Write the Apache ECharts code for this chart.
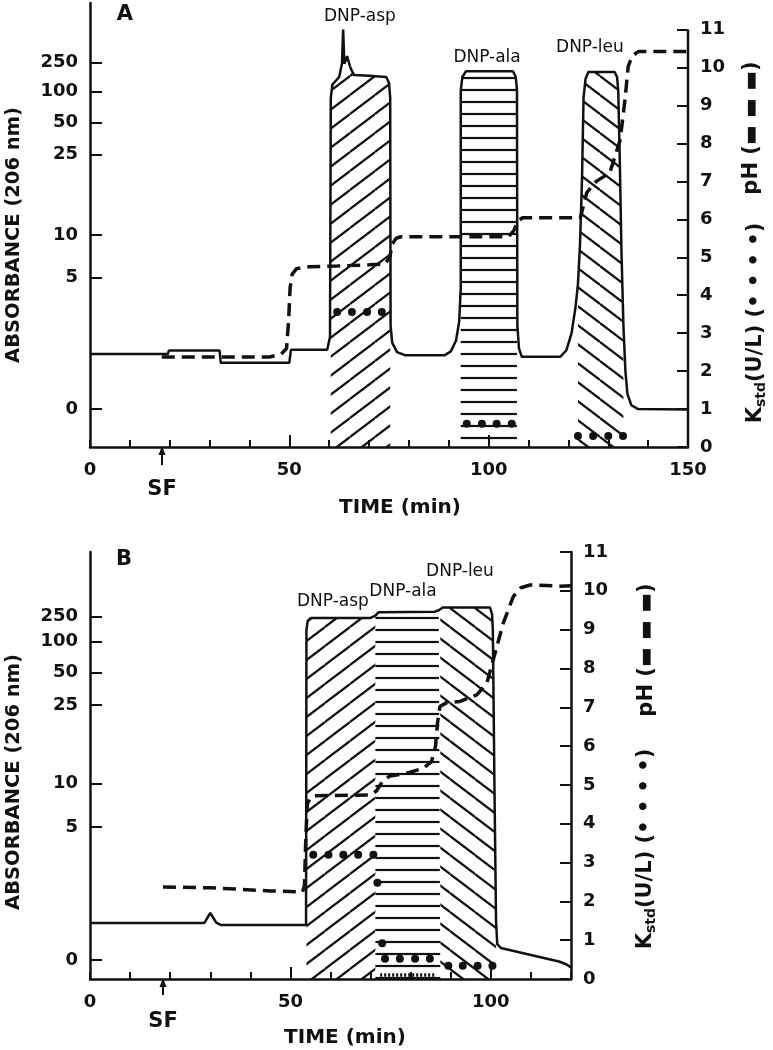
<!DOCTYPE html>
<html><head><meta charset="utf-8">
<script src="https://cdn.jsdelivr.net/npm/echarts@6/dist/echarts.min.js"></script>
<style>html,body{margin:0;padding:0;background:#fff}#c{width:773px;height:1050px}</style>
</head><body><div id="c"></div>
<script>
// ---------------- DATA (values in right-axis display units, time in min) ----------------
const absTickLabels = ['0', '5', '10', '25', '50', '100', '250'];
const absTickPosA = [1.0, 4.46, 5.59, 7.70, 8.55, 9.37, 10.13];
const absTickPosB = [0.49, 3.92, 5.03, 7.06, 7.89, 8.69, 9.33];
const rightTicks = [0, 1, 2, 3, 4, 5, 6, 7, 8, 9, 10, 11];
const timeLabelsA = [0, 50, 100, 150];
const timeLabelsB = [0, 50, 100];
const timeMajorA = [50, 100];
const timeMajorB = [50, 100];
const peakNames = ['DNP-asp', 'DNP-ala', 'DNP-leu'];

// Panel A
const absA = [[0,2.45],[19.5,2.45],[19.8,2.54],[32.5,2.54],[32.8,2.22],[50,2.22],[50.4,2.56],[59.5,2.56],[60.2,2.9],
  [60.4,9.2],[60.8,9.55],[62.5,9.75],[63.2,10.1],[63.5,11.0],[63.8,10.1],[64.5,10.3],[65.3,10.0],[66.2,9.8],[70,9.78],
  [74.3,9.75],[75,9.6],[75.3,9.2],[75.4,3.2],[75.8,2.75],[77,2.5],[79,2.42],[89,2.42],[90.5,2.52],[91.8,2.8],[92.6,3.3],
  [93,4.2],[93,9.4],[93.4,9.75],[94.3,9.9],[106.1,9.9],[106.8,9.75],[107.1,9.4],[107.2,3.2],[107.6,2.6],[108.3,2.38],
  [118,2.38],[119.5,2.55],[120.8,3.0],[121.8,3.7],[122.4,4.3],[122.9,5.3],[123.4,7.0],[123.8,9.2],[124.3,9.7],[125,9.88],
  [131.6,9.88],[132.2,9.75],[132.5,9.4],[132.9,7.5],[133.3,5.2],[133.8,3.2],[134.3,2.0],[134.8,1.4],[135.8,1.1],[137.5,1.0],[150,0.99]];
const phA = [[18,2.37],[33,2.37],[45,2.37],[48,2.45],[49.3,2.6],[49.8,3.3],[50.2,4.2],[50.7,4.55],[51.8,4.7],[55,4.75],
  [62,4.77],[70,4.8],[74,4.82],[75.2,5.0],[75.8,5.35],[76.8,5.5],[78,5.54],[105,5.54],[106.3,5.7],[107.3,5.95],[108.5,6.04],
  [123,6.04],[124.6,6.7],[127,7.0],[130.4,7.23],[133,8.1],[134.2,9.16],[135,10.03],[136,10.3],[137.5,10.42],[150,10.42]];
const kstdA = [[62,3.56],[65.7,3.56],[69.5,3.56],[73.2,3.56],[94.5,0.61],[98.3,0.61],[102,0.61],[105.8,0.61],
  [122.4,0.29],[126.2,0.29],[130,0.29],[133.7,0.29]];
const hatchRangesA = [[60.4,75.3],[93,107.1],[122.4,133.8]];
const peakLabelAtA = [[67.7,11.35],[99.6,10.26],[125.4,10.53]];

// Panel B
const absB = [[0,1.44],[28.5,1.44],[30,1.7],[31.5,1.45],[32.7,1.39],[53.9,1.39],[54,9.0],[54.3,9.22],[55,9.3],[70,9.3],
  [71.2,9.36],[72,9.45],[86,9.46],[87,9.5],[87.4,9.53],[88,9.57],[99.8,9.57],[100.3,9.4],[100.5,9.0],[100.9,5],[101.3,1.5],
  [101.6,0.9],[102.5,0.8],[110,0.62],[117,0.45],[118.8,0.38],[120,0.3]];
const phB = [[18.2,2.37],[30,2.35],[45,2.27],[53,2.24],[53.5,2.4],[53.8,3.5],[54.2,4.5],[55,4.68],[56.5,4.72],[70,4.74],
  [71.5,4.85],[73.2,5.13],[74.9,5.23],[79,5.3],[83.2,5.43],[85.2,5.6],[86.2,6.0],[86.7,6.6],[87.3,7.02],[89,7.12],
  [92.3,7.15],[96.5,7.32],[99,7.62],[100.6,8.22],[103.1,9.17],[105.6,9.85],[107.5,10.08],[109.8,10.15],[117.3,10.12],[120,10.13]];
const kstdB = [[55.7,3.2],[59.5,3.2],[63.2,3.2],[66.9,3.2],[70.7,3.2],[71.7,2.48],[72.9,0.92],[73.6,0.52],[77.3,0.52],
  [81.1,0.52],[84.8,0.52],[89.4,0.34],[93,0.34],[96.7,0.34],[100.4,0.34]];
const kstdBaseB = [[72.4,0.1],[85.9,0.1]];
const hatchRangesB = [[54,71.2],[71.2,87.4],[87.4,101.3]];
const peakLabelAtB = [[60.6,9.72],[78.1,9.97],[92.3,10.49]];

// ---------------- RENDERING ----------------
const INK = '#111';
const FONT = 'DejaVu Sans';

function hatch(kind) {
  const c = document.createElement('canvas');
  let w, h;
  if (kind === 'h') { w = 12; h = 12; } else { w = 25; h = 19; }
  c.width = w; c.height = h;
  const g = c.getContext('2d');
  g.strokeStyle = INK; g.lineWidth = 2.2;
  if (kind === 'h') {
    g.beginPath(); g.moveTo(0, 6); g.lineTo(w, 6); g.stroke();
  } else {
    for (const dy of [-h, 0, h]) {
      g.beginPath();
      if (kind === 'f') { g.moveTo(0, h + dy); g.lineTo(w, dy); }
      else { g.moveTo(0, dy); g.lineTo(w, h + dy); }
      g.stroke();
    }
  }
  return c;
}
const patterns = [hatch('f'), hatch('h'), hatch('b')];

function tickLabelFmt(pos) {
  return function (v) {
    const i = pos.findIndex(p => Math.abs(p - v) < 1e-6);
    return i >= 0 ? absTickLabels[i] : '';
  };
}

const lblStyle = { color: INK, fontSize: 18, fontWeight: 'bold', fontFamily: FONT };

function xMain(grid, max, labels) {
  return {
    type: 'value', gridIndex: grid, min: 0, max: max, interval: 10,
    axisLine: { show: true, onZero: false, lineStyle: { color: INK, width: 2.5 } },
    axisTick: { show: true, inside: true, length: 7, lineStyle: { color: INK, width: 2 } },
    axisLabel: Object.assign({ show: true, customValues: labels, margin: 14 }, lblStyle),
    splitLine: { show: false }
  };
}
function xMajor(grid, max, ticks) {
  return {
    type: 'value', gridIndex: grid, min: 0, max: max,
    axisLine: { show: false, onZero: false },
    axisTick: { show: true, inside: true, length: 12, customValues: ticks, lineStyle: { color: INK, width: 2 } },
    axisLabel: { show: false }, splitLine: { show: false }
  };
}
function yLeft(grid, max, pos) {
  return {
    type: 'value', gridIndex: grid, position: 'left', min: 0, max: max,
    axisLine: { show: true, onZero: false, lineStyle: { color: INK, width: 2.5 } },
    axisTick: { show: true, inside: true, length: 12, customValues: pos, lineStyle: { color: INK, width: 2 } },
    axisLabel: Object.assign({ show: true, customValues: pos, margin: 12, formatter: tickLabelFmt(pos) }, lblStyle),
    splitLine: { show: false }
  };
}
function yRight(grid, max, showLine) {
  return {
    type: 'value', gridIndex: grid, position: 'right', min: 0, max: max,
    axisLine: { show: showLine, onZero: false, lineStyle: { color: INK, width: 2.5 } },
    axisTick: { show: true, inside: true, length: 11, customValues: rightTicks, lineStyle: { color: INK, width: 2 } },
    axisLabel: Object.assign({ show: true, customValues: rightTicks, margin: 12 }, lblStyle),
    splitLine: { show: false }
  };
}
function yHidden(grid, max) {
  return { type: 'value', gridIndex: grid, min: 0, max: max, show: false };
}

function panelSeries(xi, yi, abs, ph, kstd, ranges, labelAt) {
  const s = [];
  ranges.forEach((r, i) => {
    s.push({
      type: 'line', xAxisIndex: xi, yAxisIndex: yi, silent: true, z: 1,
      data: abs.filter(p => p[0] >= r[0] && p[0] <= r[1]),
      symbol: 'none', lineStyle: { width: 0, opacity: 0 },
      areaStyle: { color: { image: patterns[i], repeat: 'repeat' }, opacity: 1, origin: 'start' }
    });
  });
  s.push({ type: 'line', xAxisIndex: xi, yAxisIndex: yi, silent: true, z: 3, data: abs, symbol: 'none',
    lineStyle: { color: INK, width: 2.5 } });
  s.push({ type: 'line', xAxisIndex: xi, yAxisIndex: yi, silent: true, z: 4, data: ph, symbol: 'none',
    lineStyle: { color: INK, width: 3.5, type: [13, 7] } });
  s.push({ type: 'scatter', xAxisIndex: xi, yAxisIndex: yi, silent: true, z: 5, data: kstd, symbol: 'circle',
    symbolSize: 8, itemStyle: { color: INK, opacity: 1 } });
  s.push({ type: 'scatter', xAxisIndex: xi, yAxisIndex: yi, silent: true, z: 6,
    data: peakNames.map((n, i) => ({ name: n, value: labelAt[i] })),
    symbolSize: 1, itemStyle: { color: 'rgba(0,0,0,0)', opacity: 1 },
    label: { show: true, position: 'inside', formatter: '{b}', color: INK, opacity: 1, fontSize: 17, fontFamily: FONT } });
  return s;
}

const series = [].concat(
  panelSeries(0, 0, absA, phA, kstdA, hatchRangesA, peakLabelAtA),
  panelSeries(1, 2, absB, phB, kstdB, hatchRangesB, peakLabelAtB),
  [
    { type: 'line', xAxisIndex: 0, yAxisIndex: 0, silent: true, z: 2, symbol: 'none',
      data: [[150, 0], [150, 11]], lineStyle: { color: INK, width: 2.5 } },
    { type: 'line', xAxisIndex: 1, yAxisIndex: 2, silent: true, z: 5, symbol: 'none',
      data: kstdBaseB, lineStyle: { color: INK, width: 3.5, type: [2, 2] } }
  ]
);

function txt(x, y, text, size, rot, weight) {
  return { type: 'text', x: x, y: y, rotation: rot || 0, silent: true, z: 10,
    style: { text: text, font: (weight || 'bold') + ' ' + size + 'px "' + FONT + '"', fill: INK,
      align: 'center', verticalAlign: 'middle', textAlign: 'center', textVerticalAlign: 'middle' } };
}
function kstdLabel(x, y) {
  return { type: 'text', x: x, y: y, rotation: Math.PI / 2, silent: true, z: 10,
    style: { text: '{k|K}{s|std}{k|(U/L) (• • • •)}', fill: INK, align: 'center', verticalAlign: 'middle',
      rich: { k: { font: 'bold 21px "' + FONT + '"', fill: INK, lineHeight: 24 },
              s: { font: 'bold 14px "' + FONT + '"', fill: INK, lineHeight: 10, verticalAlign: 'bottom' } } } };
}
function arrow(x, yTop, yBot) {
  return [
    { type: 'line', silent: true, shape: { x1: x, y1: yTop + 5, x2: x, y2: yBot }, style: { stroke: INK, lineWidth: 2 } },
    { type: 'polygon', silent: true, shape: { points: [[x, yTop], [x - 3.5, yTop + 9], [x + 3.5, yTop + 9]] }, style: { fill: INK } }
  ];
}
const R = Math.PI / 2;
const graphic = [
  txt(125, 15, 'A', 21),
  txt(124, 560, 'B', 21),
  txt(14, 235, 'ABSORBANCE (206 nm)', 19.5, R),
  txt(14, 782, 'ABSORBANCE (206 nm)', 19.5, R),
  txt(400, 508, 'TIME (min)', 20),
  txt(345, 1038, 'TIME (min)', 20),
  txt(162, 490, 'SF', 21),
  txt(163, 1022, 'SF', 21),
  txt(752, 128, 'pH (▬ ▬ ▬)', 21, R),
  txt(647, 650, 'pH (▬ ▬ ▬)', 21, R),
  kstdLabel(756, 323),
  kstdLabel(646, 849)
].concat(arrow(162, 446, 465), arrow(163, 978, 995));

const option = {
  animation: false,
  backgroundColor: '#fff',
  grid: [
    { left: 90, top: 3, width: 598, height: 444, containLabel: false, outerBoundsMode: 'none' },
    { left: 90, top: 552, width: 481, height: 427, containLabel: false, outerBoundsMode: 'none' },
    { left: 90, top: 3, width: 598, height: 444, containLabel: false, outerBoundsMode: 'none' },
    { left: 90, top: 552, width: 481, height: 427, containLabel: false, outerBoundsMode: 'none' }
  ],
  xAxis: [ xMain(0, 150, timeLabelsA), xMain(1, 120, timeLabelsB), xMajor(2, 150, timeMajorA), xMajor(3, 120, timeMajorB) ],
  yAxis: [ yLeft(0, 11.7, absTickPosA), yRight(0, 11.7, false), yLeft(1, 11, absTickPosB), yRight(1, 11, true),
           yHidden(2, 11.7), yHidden(3, 11) ],
  series: series,
  graphic: graphic
};
const chart = echarts.init(document.getElementById('c'), null, { renderer: 'canvas' });
chart.setOption(option);
</script></body></html>
